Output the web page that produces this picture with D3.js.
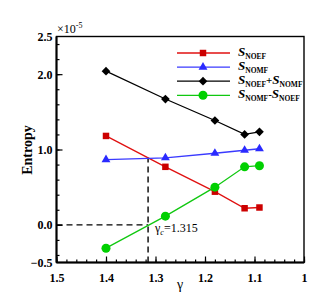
<!DOCTYPE html>
<html><head><meta charset="utf-8">
<script src="https://cdn.jsdelivr.net/npm/d3@7"></script>
<style>body{margin:0;background:#fff}svg{display:block}text{font-family:"Liberation Serif","Times New Roman",serif}</style>
</head><body><svg id="c" width="332" height="296"></svg>
<script>
const gammas = [1.4, 1.28, 1.18, 1.12, 1.09];
const sNOEF = [1.18, 0.77, 0.44, 0.22, 0.23];
const sNOMF = [0.865, 0.89, 0.95, 0.99, 1.01];
const sSum  = [2.04, 1.67, 1.385, 1.20, 1.235];
const sDiff = [-0.31, 0.115, 0.50, 0.77, 0.785];
const gammaC = 1.315;
const xTickLabels = [1.5, 1.4, 1.3, 1.2, 1.1, 1.0];
const yTickLabels = [-0.5, 0.0, 1.0, 2.0, 2.5];
const yMajor = [0, 1, 2];

const svg = d3.select("#c");
const L = 56.5, R = 304, T = 36.5, B = 262.5;
const x = d3.scaleLinear().domain([1.5, 1.0]).range([L, R]);
const y = d3.scaleLinear().domain([-0.5, 2.5]).range([B, T]);

const xMinor = d3.range(0, 26).map(i => +(1.0 + i * 0.02).toFixed(2));
const yMinor = d3.range(-2, 13).map(i => +(i * 0.2).toFixed(2));

const axStyle = g => { g.select(".domain").remove(); g.selectAll("line").attr("stroke", "#000").attr("stroke-width", 1.2); };

svg.append("g").attr("transform", `translate(0,${B})`)
  .call(d3.axisBottom(x).tickValues(xMinor).tickSize(-3).tickFormat(""))
  .call(axStyle);
svg.append("g").attr("transform", `translate(0,${B})`)
  .call(d3.axisBottom(x).tickValues(xTickLabels).tickSize(-6).tickPadding(11).tickFormat(d => d === 1 ? "1" : d3.format(".1f")(d)))
  .call(axStyle)
  .call(g => g.selectAll("text").attr("font-size", 12).attr("font-weight", "bold").attr("fill", "#000").attr("font-family", "Liberation Serif"));

svg.append("g").attr("transform", `translate(${L},0)`)
  .call(d3.axisLeft(y).tickValues(yMinor).tickSize(-3).tickFormat(""))
  .call(axStyle);
svg.append("g").attr("transform", `translate(${L},0)`)
  .call(d3.axisLeft(y).tickValues(yMajor).tickSize(-6).tickFormat(""))
  .call(axStyle);
svg.append("g").attr("transform", `translate(${L},0)`)
  .call(d3.axisLeft(y).tickValues(yTickLabels).tickSize(0).tickPadding(4).tickFormat(d3.format(".1f")))
  .call(axStyle)
  .call(g => g.selectAll("text").attr("font-size", 12).attr("font-weight", "bold").attr("fill", "#000").attr("font-family", "Liberation Serif"));

svg.append("rect").attr("x", L).attr("y", T).attr("width", R - L).attr("height", B - T)
  .attr("fill", "none").attr("stroke", "#000").attr("stroke-width", 1.4);
svg.append("line").attr("x1", L).attr("x2", L).attr("y1", T).attr("y2", B).attr("stroke", "#000").attr("stroke-width", 2);
svg.append("line").attr("x1", L).attr("x2", R).attr("y1", B).attr("y2", B).attr("stroke", "#000").attr("stroke-width", 2);

const yCross = y(d3.interpolateNumber(sNOEF[0], sNOEF[1])((1.4 - gammaC) / (1.4 - 1.28)));
svg.append("line").attr("x1", x(gammaC)).attr("x2", x(gammaC)).attr("y1", B).attr("y2", yCross)
  .attr("stroke", "#000").attr("stroke-width", 1.4).attr("stroke-dasharray", "6,4");
svg.append("line").attr("x1", L).attr("x2", x(gammaC)).attr("y1", y(0)).attr("y2", y(0))
  .attr("stroke", "#000").attr("stroke-width", 1.4).attr("stroke-dasharray", "6,4");

const series = [
  {vals: sNOEF, line: "#e01010", fill: "#cc0000", sym: d3.symbolSquare, size: 42, rot: 0},
  {vals: sNOMF, line: "#3a3aff", fill: "#2a2aff", sym: d3.symbolTriangle, size: 34, rot: 0},
  {vals: sSum,  line: "#000000", fill: "#000000", sym: d3.symbolSquare, size: 38, rot: 45},
  {vals: sDiff, line: "#10c810", fill: "#00d000", sym: d3.symbolCircle, size: 64, rot: 0}
];
const lineGen = d3.line().x((d, i) => x(gammas[i])).y(d => y(d));
series.forEach(s => {
  svg.append("path").attr("d", lineGen(s.vals)).attr("fill", "none").attr("stroke", s.line).attr("stroke-width", 1.3);
  svg.selectAll(null).data(s.vals).enter().append("path")
    .attr("d", d3.symbol().type(s.sym).size(s.size))
    .attr("transform", (d, i) => `translate(${x(gammas[i])},${y(d)}) rotate(${s.rot})`)
    .attr("fill", s.fill);
});

const legNames = [["NOEF"], ["NOMF"], ["NOEF", "+", "NOMF"], ["NOMF", "-", "NOEF"]];
const lg = svg.append("g");
series.forEach((s, i) => {
  const yy = 53 + i * 14.1;
  lg.append("line").attr("x1", 177).attr("x2", 230).attr("y1", yy).attr("y2", yy).attr("stroke", s.line).attr("stroke-width", 1.3);
  lg.append("path").attr("d", d3.symbol().type(s.sym).size(s.size)).attr("transform", `translate(203,${yy}) rotate(${s.rot})`).attr("fill", s.fill);
  const t = lg.append("text").attr("x", 238).attr("y", yy + 3).attr("font-size", 13).attr("fill", "#000");
  legNames[i].forEach(p => {
    if (p === "+" || p === "-") {
      t.append("tspan").attr("dy", -2.5).attr("font-size", 11).attr("font-weight", "bold").text(p);
    } else {
      t.append("tspan").attr("font-style", "italic").attr("font-weight", "bold").text("S");
      t.append("tspan").attr("dy", 2.5).attr("font-size", 7.5).attr("font-weight", "bold").text(p);
    }
  });
});

const ann = svg.append("text").attr("x", 155).attr("y", 232).attr("font-size", 12).attr("fill", "#000");
ann.append("tspan").text("γ");
ann.append("tspan").attr("font-size", 8).attr("font-style", "italic").attr("dy", 3).text("c");
ann.append("tspan").attr("dy", -3).text("=1.315");

svg.append("text").attr("transform", "translate(32,150) rotate(-90)").attr("text-anchor", "middle")
  .attr("font-size", 14).attr("font-weight", "bold").text("Entropy");
svg.append("text").attr("x", 180).attr("y", 289).attr("text-anchor", "middle").attr("font-size", 14).text("γ");
const ex = svg.append("text").attr("x", 57).attr("y", 33).attr("font-size", 12);
ex.append("tspan").text("×10");
ex.append("tspan").attr("dy", -5).attr("font-size", 8).text("-5");
</script></body></html>
